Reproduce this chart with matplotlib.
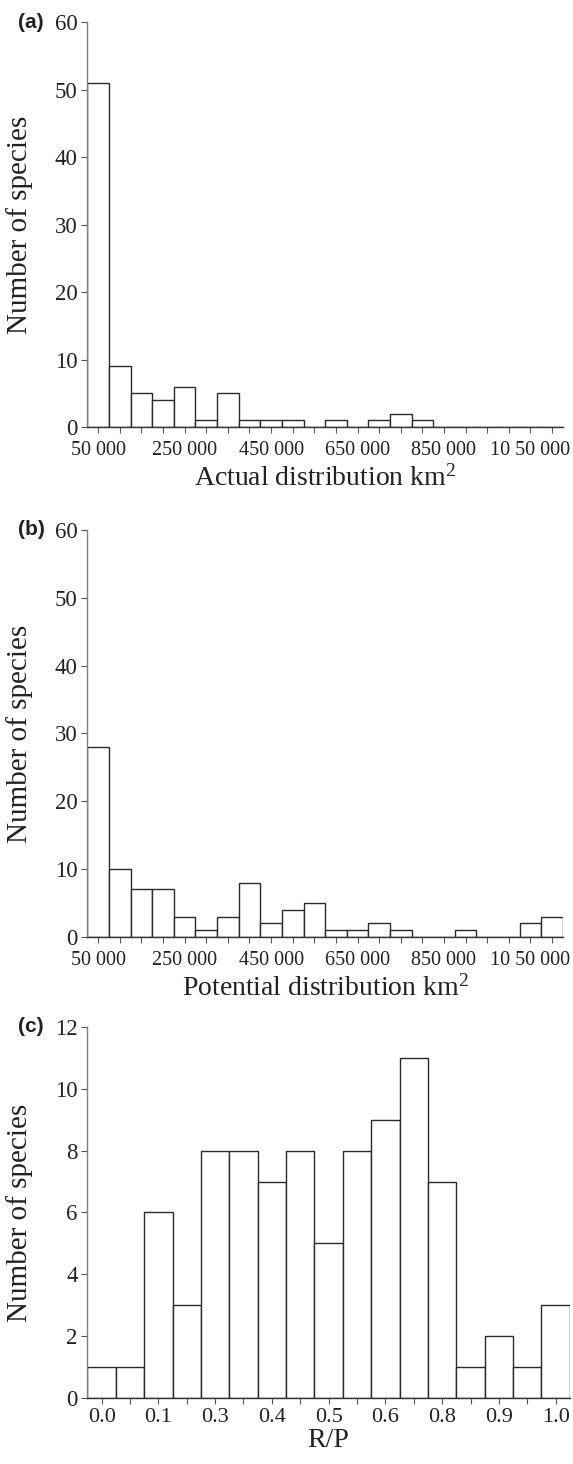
import numpy as np
import matplotlib
matplotlib.use('Agg')
import matplotlib.pyplot as plt

plt.rcParams['font.family'] = ['Liberation Serif', 'DejaVu Serif']
plt.rcParams['mathtext.fontset'] = 'custom'
plt.rcParams['mathtext.rm'] = 'Liberation Serif'
plt.rcParams['mathtext.it'] = 'Liberation Serif:italic'

# bin centres (km2) for panels a and b
area_bins = list(range(50000, 1100001, 50000))
area_labels = {50000: '50 000', 250000: '250 000', 450000: '450 000',
               650000: '650 000', 850000: '850 000', 1050000: '10 50 000'}

actual_counts = [51, 9, 5, 4, 6, 1, 5, 1, 1, 1, 0, 1, 0, 1, 2, 1, 0, 0, 0, 0, 0, 0]
potential_counts = [28, 10, 7, 7, 3, 1, 3, 8, 2, 4, 5, 1, 1, 2, 1, 0, 0, 1, 0, 0, 2, 3]

# R/P bins (16 classes over 0-1, centres)
rp_bins = [i / 16 for i in range(17)]
rp_counts = [1, 1, 6, 3, 8, 8, 7, 8, 5, 8, 9, 11, 7, 1, 2, 1, 3]
rp_labels = ['0.0', '', '0.1', '', '0.3', '', '0.4', '', '0.5', '', '0.6', '',
             '0.8', '', '0.9', '', '1.0']

TXT = '#222222'
EDGE = '#2a2a2a'


def style_axis(ax, xsize, xpad):
    ax.spines['top'].set_visible(False)
    ax.spines['right'].set_visible(False)
    ax.spines['left'].set_color('#808080')
    ax.spines['left'].set_linewidth(1.0)
    ax.spines['bottom'].set_color('#333333')
    ax.spines['bottom'].set_linewidth(1.0)
    ax.tick_params(direction='out', length=4, width=0.8, colors='#555555',
                   labelcolor=TXT, pad=3)
    ax.tick_params(axis='y', labelsize=16.5)
    ax.tick_params(axis='x', labelsize=xsize, pad=xpad)


fig = plt.figure(figsize=(5.73, 14.64), dpi=100)

# panel a
ax1 = fig.add_axes([0.1525, 0.7083, 0.8298, 0.2766])
ax1.bar(area_bins, actual_counts, width=50000, color='white', edgecolor=EDGE, linewidth=1.0)
ax1.set_xlim(25000, 1125000)
ax1.set_ylim(0, 60)
ax1.set_yticks(range(0, 61, 10))
ax1.set_xticks(area_bins)
ax1.set_xticklabels([area_labels.get(b, '') for b in area_bins])
ax1.set_xlabel('Actual distribution km$^{2}$', fontsize=20, color=TXT, labelpad=4)
ax1.set_ylabel('Number of species', fontsize=21, color=TXT)
style_axis(ax1, 14.5, 6)

# panel b
ax2 = fig.add_axes([0.1525, 0.3600, 0.8298, 0.2780])
ax2.bar(area_bins, potential_counts, width=50000, color='white', edgecolor=EDGE, linewidth=1.0)
ax2.set_xlim(25000, 1125000)
ax2.set_ylim(0, 60)
ax2.set_yticks(range(0, 61, 10))
ax2.set_xticks(area_bins)
ax2.set_xticklabels([area_labels.get(b, '') for b in area_bins])
ax2.set_xlabel('Potential distribution km$^{2}$', fontsize=20, color=TXT, labelpad=4)
ax2.set_ylabel('Number of species', fontsize=21, color=TXT)
style_axis(ax2, 14.5, 6)

# panel c
ax3 = fig.add_axes([0.1525, 0.0451, 0.8420, 0.2534])
ax3.bar(rp_bins, rp_counts, width=1 / 16, color='white', edgecolor=EDGE, linewidth=1.0)
ax3.set_xlim(-1 / 32, 1 + 1 / 32)
ax3.set_ylim(0, 12)
ax3.set_yticks(range(0, 13, 2))
ax3.set_xticks(rp_bins)
ax3.set_xticklabels(rp_labels)
ax3.set_xlabel('R/P', fontsize=20, color=TXT, labelpad=1)
ax3.set_ylabel('Number of species', fontsize=21, color=TXT)
style_axis(ax3, 16, 3)

for ax, tag in [(ax1, '(a)'), (ax2, '(b)'), (ax3, '(c)')]:
    w = ax.get_position().width * 573
    ax.yaxis.set_label_coords(-54 / w, 0.5)
    ax.text(-69 / w, 1.0, tag, transform=ax.transAxes, fontsize=15, fontweight='bold',
            family=['Liberation Sans', 'DejaVu Sans'], color=TXT, ha='left', va='center')

fig.savefig('out.png', dpi=100, facecolor='white')
